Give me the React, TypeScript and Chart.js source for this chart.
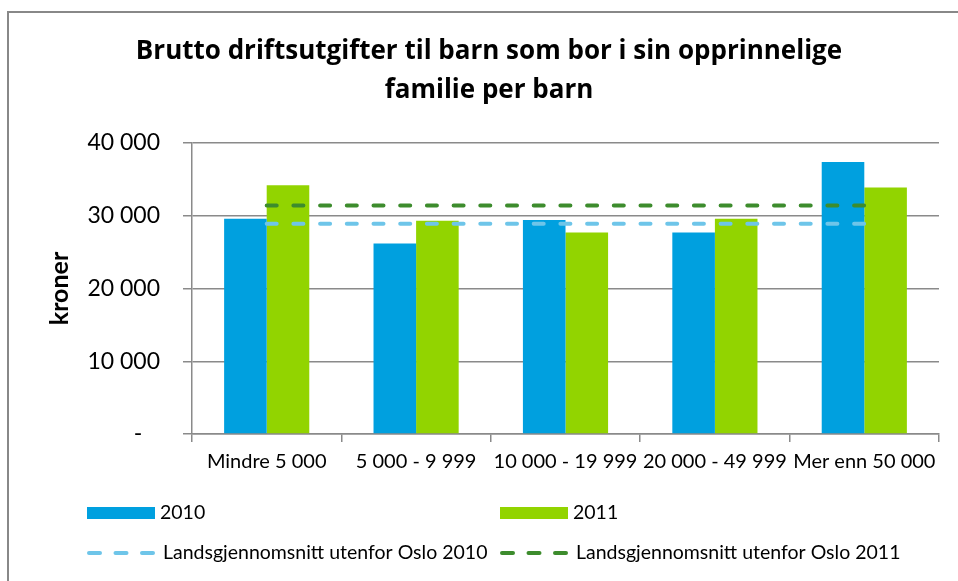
import { useEffect, useRef } from 'react';
import { Chart, registerables } from 'chart.js';

Chart.register(...registerables);

const titleLines = ['Brutto driftsutgifter til barn som bor i sin opprinnelige', 'familie per barn'];
const categories = ['Mindre 5 000', '5 000 - 9 999', '10 000 - 19 999', '20 000 - 49 999', 'Mer enn 50 000'];
const values2010 = [29600, 26200, 29400, 27700, 37400];
const values2011 = [34200, 29300, 27700, 29600, 33900];
const avgOutsideOslo2010 = [28900, 28900, 28900, 28900, 28900];
const avgOutsideOslo2011 = [31400, 31400, 31400, 31400, 31400];
const seriesLabels = ['2010', '2011', 'Landsgjennomsnitt utenfor Oslo 2010', 'Landsgjennomsnitt utenfor Oslo 2011'];
const yAxisTitle = 'kroner';

const FONT = 'Lato';
const TITLE_FONT = '"Open Sans"';
const GRID = '#8a8a8a';

function formatTick(v: number): string {
  if (v === 0) return '-   ';
  return String(v).replace(/\B(?=(\d{3})+(?!\d))/g, ' ');
}

const framePlugin = {
  id: 'frame',
  beforeDraw(chart: any) {
    const { ctx, width, height } = chart;
    ctx.save();
    ctx.fillStyle = '#ffffff';
    ctx.fillRect(0, 0, width, height);
    ctx.strokeStyle = '#888888';
    ctx.lineWidth = 2;
    ctx.beginPath();
    ctx.moveTo(8, height + 2);
    ctx.lineTo(8, 12);
    ctx.lineTo(width + 2, 12);
    ctx.stroke();
    ctx.restore();
  },
};

const gridLegendPlugin = {
  id: 'gridLegend',
  afterDraw(chart: any, _args: any, opts: any) {
    const { ctx } = chart;
    const ds = chart.data.datasets;
    ctx.save();
    ctx.font = `${opts.fontSize}px ${FONT}`;
    ctx.fillStyle = '#000';
    ctx.textBaseline = 'middle';
    ctx.textAlign = 'left';
    ds.forEach((d: any, i: number) => {
      const col = i % 2;
      const row = Math.floor(i / 2);
      const x = opts.colX[col];
      const y = opts.rowY[row];
      const w = opts.symbolWidth;
      if (d.type === 'line') {
        ctx.save();
        ctx.strokeStyle = d.borderColor;
        ctx.lineWidth = d.borderWidth;
        ctx.lineCap = 'round';
        ctx.setLineDash(opts.legendDash);
        ctx.beginPath();
        ctx.moveTo(x + 2, y);
        ctx.lineTo(x + w - 2, y);
        ctx.stroke();
        ctx.restore();
        ctx.fillText(d.label, x + w + opts.lineTextGap, y);
      } else {
        ctx.fillStyle = d.backgroundColor;
        ctx.fillRect(x, y - opts.boxHeight / 2, w, opts.boxHeight);
        ctx.fillStyle = '#000';
        ctx.fillText(d.label, x + w + opts.boxTextGap, y);
      }
    });
    ctx.restore();
  },
};

export default function App() {
  const ref = useRef<HTMLCanvasElement | null>(null);

  useEffect(() => {
    if (!ref.current) return;
    const chart = new Chart(ref.current, {
      type: 'bar',
      data: {
        labels: categories,
        datasets: [
          {
            type: 'bar',
            label: seriesLabels[0],
            data: values2010,
            backgroundColor: '#00a0df',
            categoryPercentage: 0.57,
            barPercentage: 1.0,
            order: 2,
          },
          {
            type: 'bar',
            label: seriesLabels[1],
            data: values2011,
            backgroundColor: '#92d400',
            categoryPercentage: 0.57,
            barPercentage: 1.0,
            order: 2,
          },
          {
            type: 'line',
            label: seriesLabels[2],
            data: avgOutsideOslo2010,
            borderColor: '#6ec5e9',
            borderWidth: 4,
            borderDash: [10, 16.7],
            borderCapStyle: 'round',
            pointRadius: 0,
            fill: false,
            order: 1,
          },
          {
            type: 'line',
            label: seriesLabels[3],
            data: avgOutsideOslo2011,
            borderColor: '#3d8c2d',
            borderWidth: 4,
            borderDash: [10, 16.7],
            borderCapStyle: 'round',
            pointRadius: 0,
            fill: false,
            order: 0,
          },
        ] as any,
      },
      options: {
        responsive: false,
        animation: false,
        layout: { padding: { left: 39, right: 19, top: 0, bottom: 0 } },
        font: { family: FONT },
        plugins: {
          legend: { display: false },
          tooltip: { enabled: false },
          title: {
            display: true,
            text: titleLines,
            color: '#000',
            font: { family: TITLE_FONT, size: 26, weight: 'bold', lineHeight: 1.5 },
            padding: { top: 32, bottom: 33 },
          },
          gridLegend: {
            colX: [87, 500],
            rowY: [513, 553],
            symbolWidth: 68,
            boxHeight: 12,
            boxTextGap: 5,
            lineTextGap: 8,
            fontSize: 19.5,
            legendDash: [11, 15.5],
          },
        } as any,
        scales: {
          x: {
            grid: {
              display: true,
              offset: true,
              drawOnChartArea: false,
              drawTicks: true,
              tickLength: 8,
              color: GRID,
              lineWidth: 1.5,
            },
            border: { display: true, color: GRID, width: 1.5 },
            ticks: {
              color: '#000',
              font: { family: FONT, size: 20 },
              padding: 8,
              maxRotation: 0,
              autoSkip: false,
            },
            afterFit(scale: any) {
              scale.height = 147;
            },
          },
          y: {
            min: 0,
            max: 40000,
            ticks: {
              stepSize: 10000,
              color: '#000',
              font: { family: FONT, size: 23 },
              padding: 23,
              callback: (v: any) => formatTick(Number(v)),
            },
            grid: {
              color: GRID,
              lineWidth: 1.5,
              tickLength: 9,
              drawTicks: true,
            },
            border: { display: true, color: GRID, width: 1.5 },
            title: {
              display: true,
              text: yAxisTitle,
              color: '#000',
              font: { family: FONT, size: 25, weight: 'bold', lineHeight: 1.0 },
              padding: { top: 8, bottom: 0 },
            },
            afterFit(scale: any) {
              scale.width = 153;
            },
          },
        },
      },
      plugins: [framePlugin, gridLegendPlugin],
    });
    return () => chart.destroy();
  }, []);

  return (
    <canvas
      ref={ref}
      width={958}
      height={581}
      style={{ position: 'fixed', left: 0, top: 0, width: 958, height: 581, display: 'block' }}
    />
  );
}
